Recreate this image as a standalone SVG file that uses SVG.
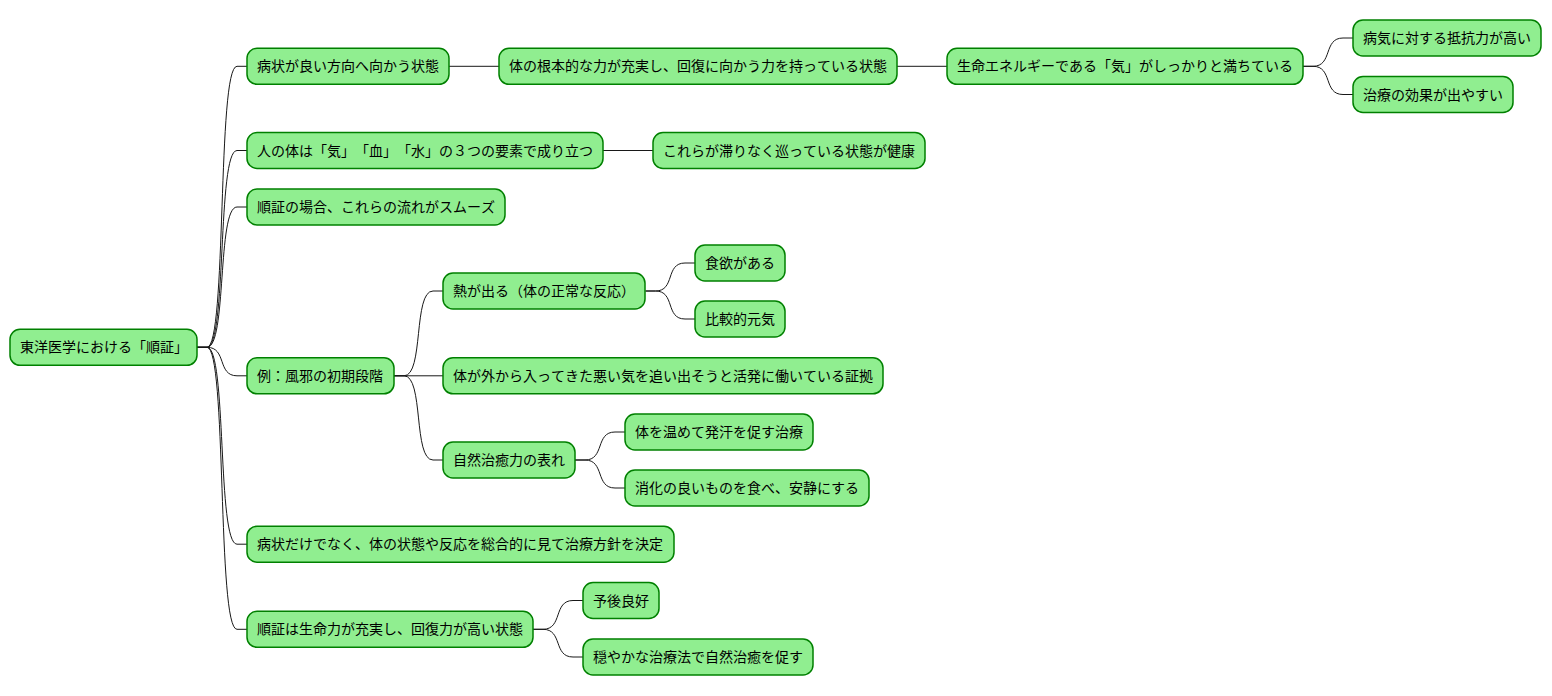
<svg xmlns="http://www.w3.org/2000/svg" width="1552" height="696" viewBox="0 0 1552 696">
<style>
.n rect{fill:#90EE90;stroke:#008000;stroke-width:1.5}
.n text{font-family:"Noto Sans CJK JP","Noto Sans",sans-serif;font-size:14px;fill:#000;font-kerning:none;text-spacing-trim:space-all;font-feature-settings:"chws" 0,"kern" 0,"halt" 0,"palt" 0}
#connectors path{fill:none;stroke:#181818;stroke-width:1}
</style>
<rect width="1552" height="696" fill="#fff"/>
<g id="connectors">
<path d="M197,347.3 L207,347.3 C227,347.3 217,66.3 237,66.3 L247,66.3"/>
<path d="M197,347.3 L207,347.3 C227,347.3 217,150.5 237,150.5 L247,150.5"/>
<path d="M197,347.3 L207,347.3 C227,347.3 217,207 237,207 L247,207"/>
<path d="M197,347.3 L207,347.3 C227,347.3 217,375.8 237,375.8 L247,375.8"/>
<path d="M197,347.3 L207,347.3 C227,347.3 217,544.2 237,544.2 L247,544.2"/>
<path d="M197,347.3 L207,347.3 C227,347.3 217,629.3 237,629.3 L247,629.3"/>
<path d="M449,66.3 L499,66.3"/>
<path d="M897,66.3 L947,66.3"/>
<path d="M1303,66.3 L1313,66.3 C1333,66.3 1323,38 1343,38 L1353,38"/>
<path d="M1303,66.3 L1313,66.3 C1333,66.3 1323,94.5 1343,94.5 L1353,94.5"/>
<path d="M603,150.5 L653,150.5"/>
<path d="M394,375.8 L404,375.8 C424,375.8 413,291 433,291 L443,291"/>
<path d="M394,375.8 L443,375.8"/>
<path d="M394,375.8 L404,375.8 C424,375.8 413,460 433,460 L443,460"/>
<path d="M645.5,291 L655.5,291 C675.5,291 665,263 685,263 L695,263"/>
<path d="M645.5,291 L655.5,291 C675.5,291 665,319 685,319 L695,319"/>
<path d="M575,460 L585,460 C605,460 595,432 615,432 L625,432"/>
<path d="M575,460 L585,460 C605,460 595,488 615,488 L625,488"/>
<path d="M533,629.3 L543,629.3 C563,629.3 553,600.5 573,600.5 L583,600.5"/>
<path d="M533,629.3 L543,629.3 C563,629.3 553,657 573,657 L583,657"/>
</g>
<g id="root" class="n"><rect x="10" y="329.3" width="187" height="36" rx="10"/><text x="20" y="352.3">東洋医学における「順証」</text></g>
<g id="n1" class="n"><rect x="247" y="48.3" width="202" height="36" rx="10"/><text x="257" y="71.3">病状が良い方向へ向かう状態</text></g>
<g id="n1a" class="n"><rect x="499" y="48.3" width="398" height="36" rx="10"/><text x="509" y="71.3">体の根本的な力が充実し、回復に向かう力を持っている状態</text></g>
<g id="n1b" class="n"><rect x="947" y="48.3" width="356" height="36" rx="10"/><text x="957" y="71.3">生命エネルギーである「気」がしっかりと満ちている</text></g>
<g id="n1c" class="n"><rect x="1353" y="20" width="188" height="36" rx="10"/><text x="1363" y="43">病気に対する抵抗力が高い</text></g>
<g id="n1d" class="n"><rect x="1353" y="76.5" width="160" height="36" rx="10"/><text x="1363" y="99.5">治療の効果が出やすい</text></g>
<g id="n2" class="n"><rect x="247" y="132.5" width="356" height="36" rx="10"/><text x="257 271 285 299 313 327 341 355 369 383 397 411 425 439 453 467 481 495 509 523 537 551 565 579" y="155.5">人の体は「気」「血」「水」の３つの要素で成り立つ</text></g>
<g id="n2a" class="n"><rect x="653" y="132.5" width="272" height="36" rx="10"/><text x="663" y="155.5">これらが滞りなく巡っている状態が健康</text></g>
<g id="n3" class="n"><rect x="247" y="189" width="258" height="36" rx="10"/><text x="257" y="212">順証の場合、これらの流れがスムーズ</text></g>
<g id="n4" class="n"><rect x="247" y="357.8" width="147" height="36" rx="10"/><text x="257" y="380.8">例：風邪の初期段階</text></g>
<g id="n4a" class="n"><rect x="443" y="273" width="202" height="36" rx="10"/><text x="453" y="296">熱が出る（体の正常な反応）</text></g>
<g id="n4a1" class="n"><rect x="695" y="245" width="90" height="36" rx="10"/><text x="705" y="268">食欲がある</text></g>
<g id="n4a2" class="n"><rect x="695" y="301" width="90" height="36" rx="10"/><text x="705" y="324">比較的元気</text></g>
<g id="n4b" class="n"><rect x="443" y="357.8" width="440" height="36" rx="10"/><text x="453" y="380.8">体が外から入ってきた悪い気を追い出そうと活発に働いている証拠</text></g>
<g id="n4c" class="n"><rect x="443" y="442" width="132" height="36" rx="10"/><text x="453" y="465">自然治癒力の表れ</text></g>
<g id="n4c1" class="n"><rect x="625" y="414" width="188" height="36" rx="10"/><text x="635" y="437">体を温めて発汗を促す治療</text></g>
<g id="n4c2" class="n"><rect x="625" y="470" width="244" height="36" rx="10"/><text x="635" y="493">消化の良いものを食べ、安静にする</text></g>
<g id="n5" class="n"><rect x="247" y="526.2" width="427" height="36" rx="10"/><text x="257" y="549.2">病状だけでなく、体の状態や反応を総合的に見て治療方針を決定</text></g>
<g id="n6" class="n"><rect x="247" y="611.3" width="286" height="36" rx="10"/><text x="257" y="634.3">順証は生命力が充実し、回復力が高い状態</text></g>
<g id="n6a" class="n"><rect x="583" y="582.5" width="76" height="36" rx="10"/><text x="593" y="605.5">予後良好</text></g>
<g id="n6b" class="n"><rect x="583" y="639" width="230" height="36" rx="10"/><text x="593" y="662">穏やかな治療法で自然治癒を促す</text></g>
</svg>
